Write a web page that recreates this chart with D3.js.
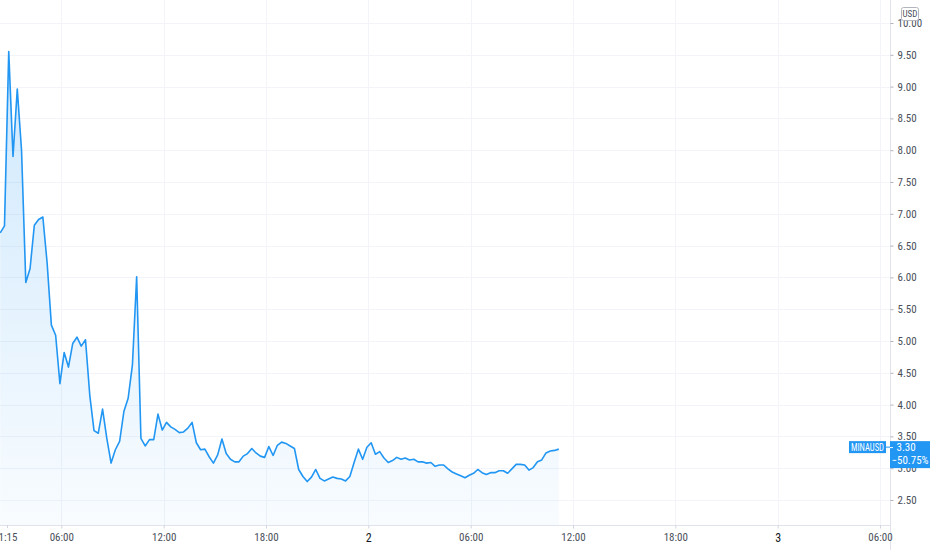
<!DOCTYPE html>
<html>
<head>
<meta charset="utf-8">
<script src="https://cdn.jsdelivr.net/npm/d3@7/dist/d3.min.js"></script>
<style>
  html, body { margin: 0; padding: 0; background: #ffffff; }
  svg { display: block; }
  text { font-family: "Liberation Sans Narrow", "Roboto Condensed", "Liberation Sans", sans-serif; }
</style>
</head>
<body>
<svg id="chart" width="932" height="550"></svg>
<script>
// ---- data ----
const symbol = "MINAUSD";
const currency = "USD";
const seriesStart = "2021-06-01T02:25:00Z";
const barMinutes = 15;
const prices = [
  6.70, 6.81, 9.55, 7.90, 8.96, 8.00, 5.92, 6.14, 6.82, 6.91,
  6.95, 6.23, 5.25, 5.09, 4.33, 4.82, 4.59, 4.96, 5.06, 4.92,
  5.02, 4.15, 3.59, 3.55, 3.93, 3.47, 3.08, 3.29, 3.42, 3.89,
  4.10, 4.62, 6.01, 3.47, 3.35, 3.45, 3.45, 3.85, 3.60, 3.72,
  3.65, 3.61, 3.56, 3.57, 3.63, 3.72, 3.40, 3.29, 3.30, 3.18,
  3.08, 3.21, 3.46, 3.23, 3.14, 3.10, 3.10, 3.19, 3.23, 3.31,
  3.24, 3.19, 3.17, 3.34, 3.20, 3.36, 3.41, 3.39, 3.35, 3.31,
  2.98, 2.87, 2.79, 2.86, 2.98, 2.84, 2.80, 2.83, 2.86, 2.84,
  2.83, 2.80, 2.87, 3.09, 3.30, 3.14, 3.33, 3.40, 3.22, 3.26,
  3.16, 3.09, 3.12, 3.17, 3.14, 3.16, 3.13, 3.14, 3.10, 3.10,
  3.08, 3.09, 3.03, 3.05, 3.05, 2.99, 2.94, 2.91, 2.88, 2.85,
  2.89, 2.92, 2.98, 2.93, 2.90, 2.93, 2.93, 2.96, 2.96, 2.92,
  2.99, 3.06, 3.06, 3.05, 2.97, 3.01, 3.10, 3.13, 3.24, 3.27,
  3.28, 3.30
];
const lastPriceLabel = "3.30";
const changeLabel = "\u221250.75%";
const priceTicks = [2.5, 3.0, 3.5, 4.0, 4.5, 5.0, 5.5, 6.0, 6.5, 7.0, 7.5, 8.0, 8.5, 9.0, 9.5, 10.0];
const timeTicks = [
  "2021-06-01T06:00:00Z", "2021-06-01T12:00:00Z", "2021-06-01T18:00:00Z",
  "2021-06-02T00:00:00Z", "2021-06-02T06:00:00Z", "2021-06-02T12:00:00Z",
  "2021-06-02T18:00:00Z", "2021-06-03T00:00:00Z", "2021-06-03T06:00:00Z"
];
const timeTickLabels = ["06:00", "12:00", "18:00", "2", "06:00", "12:00", "18:00", "3", "06:00"];
const dayTickLabels = ["2", "3"];
const firstTimeLabel = "1:15";

// ---- layout ----
const W = 932, H = 550;
const paneRight = 890, paneBottom = 525;
const blue = "#2196f3";
const gridColor = "#f2f4f9";
const axisLineColor = "#e0e3eb";
const textColor = "#4a4f5a";

const start = new Date(seriesStart);
const data = prices.map((p, i) => ({ t: new Date(start.getTime() + i * barMinutes * 60000), p }));

const x = d3.scaleUtc()
  .domain([new Date("2021-06-01T00:00:00Z"), new Date("2021-06-03T06:00:00Z")])
  .range([-41, 880]);
const y = d3.scaleLinear().domain([2.5, 10]).range([500, 23]);

const svg = d3.select("#chart");

const defs = svg.append("defs");
const grad = defs.append("linearGradient")
  .attr("id", "areaGrad").attr("gradientUnits", "userSpaceOnUse")
  .attr("x1", 0).attr("y1", 0).attr("x2", 0).attr("y2", paneBottom);
grad.append("stop").attr("offset", "0%").attr("stop-color", blue).attr("stop-opacity", 0.24);
grad.append("stop").attr("offset", "100%").attr("stop-color", blue).attr("stop-opacity", 0.03);
defs.append("clipPath").attr("id", "paneClip")
  .append("rect").attr("x", 0).attr("y", 0).attr("width", paneRight).attr("height", paneBottom);

// grid
const grid = svg.append("g");
grid.selectAll("line.h").data(priceTicks).join("line")
  .attr("x1", 0).attr("x2", paneRight)
  .attr("y1", d => Math.round(y(d)) + 0.5).attr("y2", d => Math.round(y(d)) + 0.5)
  .attr("stroke", gridColor).attr("stroke-width", 1);
grid.selectAll("line.v").data(timeTicks).join("line")
  .attr("x1", d => Math.round(x(new Date(d))) + 0.5).attr("x2", d => Math.round(x(new Date(d))) + 0.5)
  .attr("y1", 0).attr("y2", paneBottom)
  .attr("stroke", gridColor).attr("stroke-width", 1);

// area + line
const pane = svg.append("g").attr("clip-path", "url(#paneClip)");
pane.append("path").datum(data)
  .attr("d", d3.area().x(d => x(d.t)).y0(paneBottom).y1(d => y(d.p)))
  .attr("fill", "url(#areaGrad)");
pane.append("path").datum(data)
  .attr("d", d3.line().x(d => x(d.t)).y(d => y(d.p)))
  .attr("fill", "none").attr("stroke", blue).attr("stroke-width", 1.6)
  .attr("stroke-linejoin", "round");

// axis lines
svg.append("line").attr("x1", paneRight + 0.5).attr("x2", paneRight + 0.5)
  .attr("y1", 0).attr("y2", H).attr("stroke", axisLineColor);
svg.append("line").attr("x1", 0).attr("x2", paneRight)
  .attr("y1", paneBottom + 0.5).attr("y2", paneBottom + 0.5).attr("stroke", axisLineColor);

// price axis
const yAxis = d3.axisRight(y).tickValues(priceTicks).tickFormat(d3.format(".2f")).tickSize(3).tickPadding(4);
const ya = svg.append("g").attr("transform", `translate(${paneRight + 0.5},0)`).call(yAxis);
ya.select(".domain").remove();
ya.selectAll(".tick line").attr("stroke", "#b2b5be");
ya.selectAll(".tick text").attr("fill", textColor).style("font-size", "11px");

// time axis
const xAxis = d3.axisBottom(x).tickValues(timeTicks.map(d => new Date(d)))
  .tickFormat((d, i) => timeTickLabels[i]).tickSize(3).tickPadding(5);
const xa = svg.append("g").attr("transform", `translate(0,${paneBottom + 0.5})`).call(xAxis);
xa.select(".domain").remove();
xa.selectAll(".tick line").attr("stroke", "#d1d4dc");
xa.selectAll(".tick text").attr("fill", textColor).style("font-size", "11px")
  .each(function (d, i) {
    if (dayTickLabels.includes(timeTickLabels[i])) d3.select(this).attr("fill", "#131722").style("font-size", "12px");
  });
svg.append("line").attr("x1", 7.5).attr("x2", 7.5).attr("y1", paneBottom).attr("y2", paneBottom + 3).attr("stroke", "#d1d4dc");
svg.append("text").attr("x", 8).attr("y", 537).attr("dy", "0.35em").attr("text-anchor", "middle")
  .attr("fill", textColor).style("font-size", "11px").text(firstTimeLabel);

// last price labels
const lastP = prices[prices.length - 1];
const ly = y(lastP);
svg.append("rect").attr("x", 849).attr("y", ly - 8).attr("width", 37).attr("height", 12).attr("fill", blue);
svg.append("text").attr("x", 851).attr("y", ly - 2).attr("dy", "0.35em")
  .attr("textLength", 33).attr("lengthAdjust", "spacingAndGlyphs")
  .attr("fill", "#ffffff").style("font-size", "10px").text(symbol);
svg.append("line").attr("x1", 886).attr("x2", 890).attr("y1", ly - 2).attr("y2", ly - 2).attr("stroke", blue);
svg.append("rect").attr("x", 890).attr("y", ly - 8).attr("width", 40).attr("height", 27).attr("fill", blue);
svg.append("line").attr("x1", 890).attr("x2", 893).attr("y1", ly - 2 + 0.5).attr("y2", ly - 2 + 0.5).attr("stroke", "#ffffff");
svg.append("text").attr("x", 896.5).attr("y", ly - 2).attr("dy", "0.35em")
  .attr("fill", "#ffffff").style("font-size", "11px").text(lastPriceLabel);
svg.append("text").attr("x", 891.5).attr("y", ly + 11).attr("dy", "0.35em")
  .attr("textLength", 37).attr("lengthAdjust", "spacingAndGlyphs")
  .attr("fill", "#ffffff").style("font-size", "11px").text(changeLabel);

// currency badge
svg.append("rect").attr("x", 901.5).attr("y", 7.5).attr("width", 17).attr("height", 13).attr("rx", 2)
  .attr("fill", "#ffffff").attr("stroke", "#b2b5be");
svg.append("text").attr("x", 910).attr("y", 14.2).attr("dy", "0.35em").attr("text-anchor", "middle")
  .attr("fill", textColor).style("font-size", "9px").text(currency);
</script>
</body>
</html>
